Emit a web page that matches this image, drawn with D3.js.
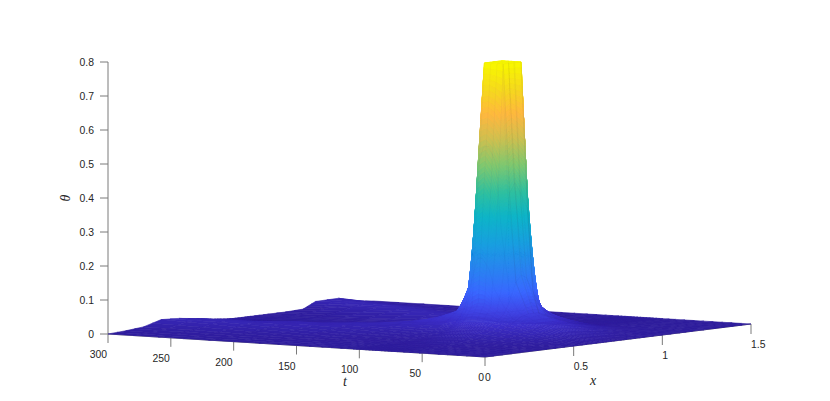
<!DOCTYPE html>
<html><head><meta charset="utf-8">
<script src="https://cdn.jsdelivr.net/npm/d3@7"></script>
<style>html,body{margin:0;background:#fff}svg{display:block}text{font-family:"Liberation Sans",Arial,sans-serif;font-size:10.4px;fill:#262626}.lab{font-family:"Liberation Serif",serif;font-style:italic;font-size:14px}</style>
</head><body><svg id="c" width="830" height="401"></svg>
<script>
const thetaTicks=[0,0.1,0.2,0.3,0.4,0.5,0.6,0.7,0.8];
const tTicks=[300,250,200,150,100,50,0];
const xTicks=[0,0.5,1,1.5];
const xGrid=[0,.1,.2,.3,.4,.5,.55,.6,.63,.67,.7,.73,.77,.8,.85,.9,1,1.1,1.17,1.3,1.4,1.5];
const tGrid=[300,260,220,180,150,130,115,105,100,95,90,85,80,75,70,60,45,30,15,0];
const thetaRows=[
[0,.003,.008,.023,.02,.013,.008,.005,.003,.001,0,0,0,0,0,0,0,.002,.02,.021,.006,0],
[0,.002,.008,.018,.024,.014,.009,.006,.004,.002,.001,0,0,0,0,.001,.006,.018,.024,.012,.003,0],
[0,.002,.005,.012,.02,.022,.014,.009,.007,.005,.003,.002,.002,.002,.003,.006,.016,.024,.016,.006,.001,0],
[0,.001,.003,.007,.012,.02,.024,.02,.012,.008,.006,.005,.005,.006,.008,.014,.026,.016,.008,.003,.001,0],
[0,.001,.002,.004,.008,.014,.02,.03,.03,.024,.018,.014,.012,.014,.02,.028,.016,.007,.003,.001,0,0],
[0,.001,.002,.003,.006,.012,.02,.034,.042,.046,.04,.032,.03,.03,.034,.026,.009,.004,.002,.001,0,0],
[0,0,.001,.002,.005,.012,.022,.04,.055,.068,.07,.062,.055,.05,.04,.022,.008,.002,.001,0,0,0],
[0,0,.001,.003,.006,.014,.028,.052,.08,.16,.22,.22,.18,.12,.07,.03,.01,.003,.001,0,0,0],
[0,0,.001,.003,.007,.018,.036,.072,.135,.5,.55,.55,.5,.3,.1,.05,.015,.004,.001,0,0,0],
[0,0,.002,.004,.009,.022,.044,.09,.4,.8,.8,.8,.8,.42,.14,.07,.025,.006,.001,0,0,0],
[0,0,.002,.004,.01,.024,.046,.1,.42,.8,.8,.8,.8,.45,.18,.08,.03,.008,.002,0,0,0],
[0,0,.002,.005,.011,.026,.046,.1,.38,.8,.8,.8,.8,.46,.2,.08,.03,.008,.002,0,0,0],
[0,0,.002,.005,.012,.028,.046,.09,.3,.8,.8,.8,.8,.45,.095,.06,.03,.008,.002,0,0,0],
[0,0,.002,.005,.014,.03,.048,.08,.16,.42,.45,.42,.37,.13,.07,.05,.028,.008,.002,0,0,0],
[0,0,.002,.005,.014,.03,.046,.07,.1,.16,.18,.17,.12,.06,.05,.04,.024,.007,.002,0,0,0],
[0,0,.002,.005,.013,.026,.04,.055,.065,.07,.07,.07,.06,.05,.04,.03,.016,.005,.001,0,0,0],
[0,0,.002,.004,.01,.02,.028,.034,.04,.04,.04,.038,.034,.03,.025,.018,.009,.003,.001,0,0,0],
[0,0,.001,.002,.006,.012,.016,.02,.022,.022,.022,.02,.018,.016,.013,.009,.004,.001,0,0,0,0],
[0,0,0,.001,.002,.005,.007,.009,.01,.01,.01,.009,.008,.007,.005,.003,.001,0,0,0,0,0],
[0,0,0,0,0,0,0,0,0,0,0,0,0,0,0,0,0,0,0,0,0,0]];
const colourStops=["#2e1c9c","#3c2ec8","#4048e8","#3a68ff","#2a85f0","#1a9fe0","#0fb5c8","#30c0a0","#80c870","#d0c050","#ffb840","#f5d820","#f8f800"];
const colourDomain=[0,.04,.08,.13,.2,.27,.35,.42,.5,.58,.65,.72,.8];

const tSx=d3.scaleLinear().domain([0,300]).range([0,-377]);
const tSy=d3.scaleLinear().domain([0,300]).range([0,-23]);
const xSx=d3.scaleLinear().domain([0,1.5]).range([485,751]);
const xSy=d3.scaleLinear().domain([0,1.5]).range([357,324]);
const zY=d3.scaleLinear().domain([0,0.8]).range([0,-272]);
const colour=d3.scaleLinear().domain(colourDomain).range(colourStops).clamp(true);
const proj=(t,x,z)=>[xSx(x)+tSx(t),xSy(x)+tSy(t)+zY(z)];

const svg=d3.select("#c");
const grey="#7a7a7a";
const tick=svg.append("g");
const line=d3.line();
tick.append("path").attr("d",line([proj(300,0,0),proj(300,0,0.8)])).attr("stroke",grey).attr("fill","none");
tick.selectAll(".zt").data(thetaTicks).join("path").attr("class","zt").attr("stroke",grey).attr("fill","none")
 .attr("d",d=>{const p=proj(300,0,d);return line([[p[0]-8,p[1]],p]);});
tick.selectAll(".zl").data(thetaTicks).join("text").attr("class","zl").attr("text-anchor","end")
 .attr("x",d=>proj(300,0,d)[0]-14).attr("y",d=>proj(300,0,d)[1]+3.6).text(d=>d);
tick.append("path").attr("d",line([proj(300,0,0),proj(0,0,0)])).attr("stroke",grey).attr("fill","none");
tick.append("path").attr("d",line([proj(0,0,0),proj(0,1.5,0)])).attr("stroke",grey).attr("fill","none");
tick.selectAll(".tt").data(tTicks).join("path").attr("class","tt").attr("stroke",grey).attr("fill","none")
 .attr("d",d=>{const p=proj(d,0,0);return line([p,[p[0],p[1]+9]]);});
tick.selectAll(".tl").data(tTicks).join("text").attr("class","tl").attr("text-anchor","end")
 .attr("x",d=>proj(d,0,0)[0]-1).attr("y",d=>proj(d,0,0)[1]+24).text(d=>d);
tick.selectAll(".xt").data(xTicks.slice(1)).join("path").attr("class","xt").attr("stroke",grey).attr("fill","none")
 .attr("d",d=>{const p=proj(0,d,0);return line([p,[p[0],p[1]+10]]);});
tick.selectAll(".xl").data(xTicks).join("text").attr("class","xl").attr("text-anchor","start")
 .attr("x",d=>proj(0,d,0)[0]).attr("y",d=>proj(0,d,0)[1]+24).text(d=>d);

const quads=[];
const mix=(a,b,u)=>a+(b-a)*u;
for(let i=0;i<tGrid.length-1;i++)for(let j=xGrid.length-2;j>=0;j--){
  const v=[thetaRows[i][j],thetaRows[i][j+1],thetaRows[i+1][j],thetaRows[i+1][j+1]];
  const n=Math.max(2,Math.min(24,Math.ceil((d3.max(v)-d3.min(v))/0.01)));
  for(let a=0;a<n;a++)for(let b=n-1;b>=0;b--){
    const P=(ua,ub)=>{
      const t=mix(tGrid[i],tGrid[i+1],ua),x=mix(xGrid[j],xGrid[j+1],ub);
      const z=mix(mix(v[0],v[1],ub),mix(v[2],v[3],ub),ua);
      return [t,x,z];
    };
    const c=[P(a/n,b/n),P(a/n,(b+1)/n),P((a+1)/n,(b+1)/n),P((a+1)/n,b/n)];
    quads.push({pts:c.map(q=>proj(q[0],q[1],q[2])),z:d3.mean(c,q=>q[2])});
  }
}
svg.append("g").selectAll("path").data(quads).join("path")
 .attr("d",d=>line(d.pts)+"Z").attr("fill",d=>colour(d.z)).attr("stroke",d=>colour(d.z)).attr("stroke-width",0.6);

const mesh=svg.append("g");
mesh.selectAll(".row").data(d3.range(tGrid.length)).join("path").attr("class","row").attr("fill","none")
 .attr("stroke","#1a1060").attr("stroke-opacity",0.05).attr("stroke-width",0.6)
 .attr("d",i=>line(xGrid.map((x,j)=>proj(tGrid[i],x,thetaRows[i][j]))));
const frontFrom=tGrid.indexOf(80), frontTo=tGrid.indexOf(60);
mesh.selectAll(".col").data(d3.range(xGrid.indexOf(.67),xGrid.indexOf(.9)+1)).join("path").attr("class","col").attr("fill","none")
 .attr("stroke","#3a3a30").attr("stroke-opacity",0.08).attr("stroke-width",0.8)
 .attr("d",j=>line(d3.range(frontFrom,frontTo+1).map(i=>proj(tGrid[i],xGrid[j],thetaRows[i][j]))));

svg.append("text").attr("class","lab").attr("x",345).attr("y",386).attr("text-anchor","middle").text("t");
svg.append("text").attr("class","lab").attr("x",593).attr("y",385).attr("text-anchor","middle").text("x");
svg.append("text").attr("class","lab").attr("transform","translate(70,198) rotate(-90)").attr("text-anchor","middle").text("θ");
</script></body></html>
